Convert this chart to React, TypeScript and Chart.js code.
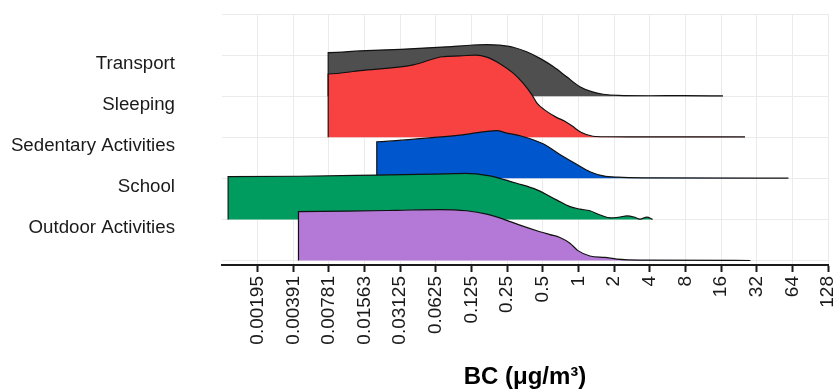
import { useEffect, useRef } from 'react';
import { Chart, registerables } from 'chart.js';

Chart.register(...registerables);

const FONT = "'Liberation Sans', Arial, Helvetica, sans-serif";

const categories = ['Transport', 'Sleeping', 'Sedentary Activities', 'School', 'Outdoor Activities'];
const categoryBaselines = [5, 4, 3, 2, 1];
const gridRows = [1, 2, 3, 4, 5, 6, 7];
const LABEL_OFFSET = 0.79;
const fillColors = ['#4f4f4f', '#f84242', '#0056cc', '#009b5e', '#b479d6'];

const xTickValues = [0.001953125, 0.00390625, 0.0078125, 0.015625, 0.03125, 0.0625, 0.125, 0.25, 0.5, 1, 2, 4, 8, 16, 32, 64, 128];
const xTickLabels = ['0.00195', '0.00391', '0.00781', '0.01563', '0.03125', '0.0625', '0.125', '0.25', '0.5', '1', '2', '4', '8', '16', '32', '64', '128'];

// BC concentration (µg/m³) and ridge height (density, in row units)
const transportBC = [0.0077, 0.0077, 0.0143, 0.0315, 0.077, 0.1285, 0.17, 0.215, 0.281, 0.365, 0.473, 0.612, 0.795, 1.028, 1.292, 1.618, 2.166, 4.0, 7.6, 16.6];
const transportDensity = [0, 1.06, 1.1, 1.14, 1.2, 1.245, 1.255, 1.24, 1.19, 1.08, 0.92, 0.72, 0.47, 0.23, 0.11, 0.046, 0.017, 0.01, 0.012, 0.005];

const sleepingBC = [0.0077, 0.0077, 0.0143, 0.0403, 0.0703, 0.1, 0.136, 0.168, 0.217, 0.281, 0.342, 0.405, 0.446, 0.521, 0.646, 0.768, 0.88, 1.049, 1.325, 1.729, 4.0, 25.5];
const sleepingDensity = [0, 1.54, 1.62, 1.76, 1.96, 1.98, 2.0, 1.95, 1.79, 1.56, 1.31, 1.03, 0.83, 0.66, 0.49, 0.39, 0.28, 0.12, 0.024, 0.012, 0.01, 0.008];

const sedentaryBC = [0.0198, 0.0198, 0.043, 0.0998, 0.204, 0.25, 0.327, 0.502, 0.697, 0.965, 1.249, 1.618, 2.154, 4.0, 59.3];
const sedentaryDensity = [0, 0.89, 0.96, 1.05, 1.16, 1.1, 1.03, 0.84, 0.58, 0.34, 0.16, 0.06, 0.027, 0.012, 0.003];

const schoolBC = [0.0011, 0.0011, 0.00445, 0.0198, 0.077, 0.11, 0.179, 0.217, 0.3, 0.446, 0.658, 0.847, 1.028, 1.249, 1.548, 1.879, 2.239, 2.567, 2.94, 3.306, 3.787, 4.227];
const schoolDensity = [0, 1.04, 1.05, 1.08, 1.11, 1.12, 1.06, 1.0, 0.88, 0.72, 0.47, 0.31, 0.25, 0.21, 0.1, 0.037, 0.058, 0.085, 0.058, 0.007, 0.054, 0];

const outdoorBC = [0.00432, 0.00432, 0.011, 0.0291, 0.0676, 0.1136, 0.168, 0.226, 0.32, 0.473, 0.574, 0.697, 0.847, 0.99, 1.249, 1.673, 2.113, 3.304, 28.3];
const outdoorDensity = [0, 1.19, 1.2, 1.22, 1.24, 1.21, 1.13, 1.02, 0.86, 0.7, 0.63, 0.56, 0.42, 0.24, 0.11, 0.075, 0.034, 0.01, 0];

const seriesBC = [transportBC, sleepingBC, sedentaryBC, schoolBC, outdoorBC];
const seriesDensity = [transportDensity, sleepingDensity, sedentaryDensity, schoolDensity, outdoorDensity];

export default function App() {
  const ref = useRef<HTMLCanvasElement>(null);

  useEffect(() => {
    document.body.style.margin = '0';
    const datasets = categories
      .map((name, i) => ({
        label: name,
        data: seriesBC[i].map((x, j) => ({ x, y: categoryBaselines[i] + seriesDensity[i][j] })),
        backgroundColor: fillColors[i],
        borderColor: '#111111',
        borderWidth: 1.2,
        pointRadius: 0,
        cubicInterpolationMode: 'monotone' as const,
        fill: { value: categoryBaselines[i] },
      }))
      .reverse();

    const chart = new Chart(ref.current!, {
      type: 'line',
      data: { datasets },
      options: {
        animation: false,
        responsive: true,
        maintainAspectRatio: false,
        events: [],
        layout: { padding: { top: 14, right: 5, bottom: 0, left: 0 } },
        plugins: { legend: { display: false }, tooltip: { enabled: false } },
        scales: {
          x: {
            type: 'logarithmic',
            bounds: 'data',
            min: 0.0009765625,
            max: 128,
            afterBuildTicks: (s: any) => {
              s.ticks = xTickValues.map((v) => ({ value: v }));
            },
            afterFit: (s: any) => {
              s.height = 124;
              s.paddingLeft = 0;
              s.paddingRight = 0;
            },
            grid: { color: '#ebebeb', lineWidth: 1, drawTicks: true, tickLength: 7, tickColor: '#1a1a1a', tickWidth: 2 },
            border: { display: true, color: '#1a1a1a', width: 2 },
            ticks: {
              autoSkip: false,
              minRotation: 90,
              maxRotation: 90,
              padding: 4,
              color: '#1a1a1a',
              font: { family: FONT, size: 19 },
              callback: (_v: any, i: number) => xTickLabels[i],
            },
            title: {
              display: true,
              text: 'BC (μg/m³)',
              color: '#000000',
              font: { family: FONT, size: 24, weight: 'bold', lineHeight: 1 },
              padding: { top: 0, bottom: 0 },
            },
          },
          y: {
            type: 'linear',
            bounds: 'data',
            min: 0.89,
            max: 7,
            afterBuildTicks: (s: any) => {
              const vals = [...gridRows, ...categoryBaselines.map((b) => b + LABEL_OFFSET)].sort((a, b) => a - b);
              s.ticks = vals.map((v) => ({ value: v }));
            },
            afterFit: (s: any) => {
              s.width = 222;
              s.paddingTop = 0;
              s.paddingBottom = 0;
            },
            grid: {
              color: (ctx: any) => (ctx.tick && Number.isInteger(ctx.tick.value) ? '#ebebeb' : 'rgba(0,0,0,0)'),
              lineWidth: 1,
              drawTicks: false,
            },
            border: { display: false },
            ticks: {
              autoSkip: false,
              padding: 47,
              color: '#1a1a1a',
              font: { family: FONT, size: 18.7 },
              callback: (value: any) => {
                const i = categoryBaselines.findIndex((b) => Math.abs(b + LABEL_OFFSET - Number(value)) < 1e-6);
                return i >= 0 ? categories[i] : '';
              },
            },
          },
        },
      } as any,
    });
    return () => chart.destroy();
  }, []);

  return (
    <div style={{ position: 'absolute', left: 0, top: 0, width: 833, height: 389, background: '#ffffff' }}>
      <canvas ref={ref} />
    </div>
  );
}
